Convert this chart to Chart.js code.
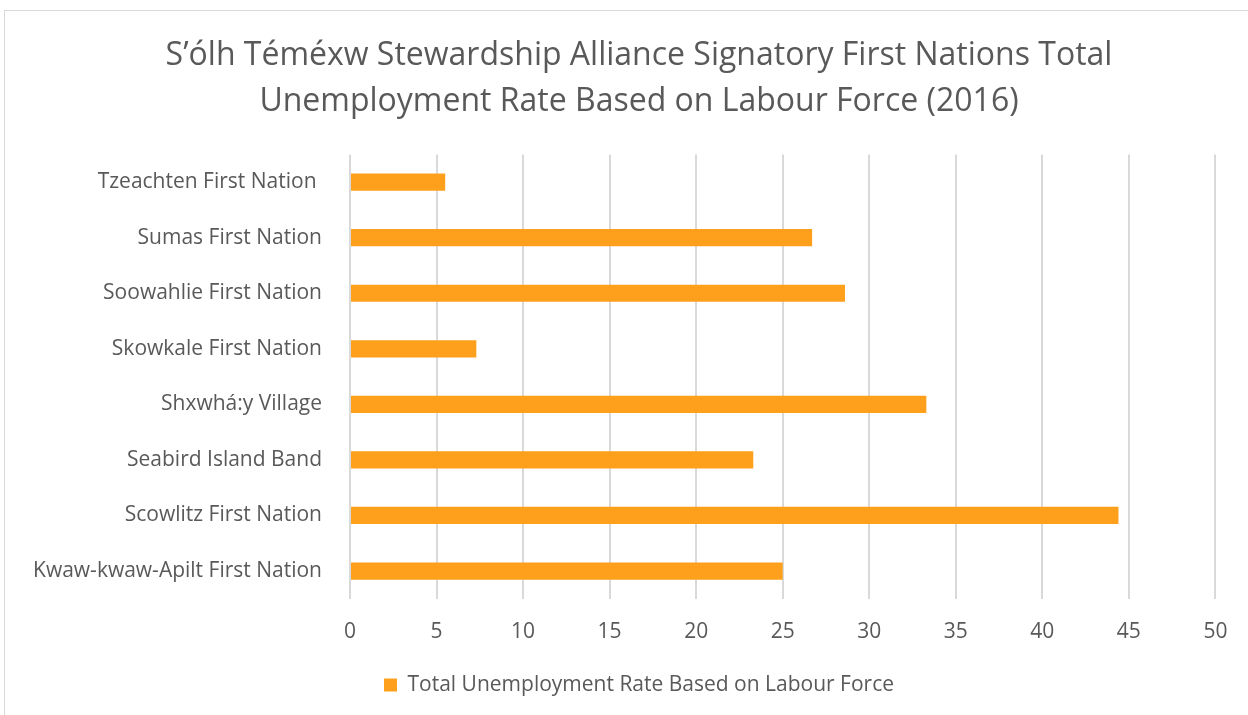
<!DOCTYPE html>
<html>
<head>
<meta charset="utf-8">
<script src="https://cdn.jsdelivr.net/npm/chart.js@4"></script>
<style>
  html, body { margin: 0; padding: 0; background: #fff; overflow: hidden; }
  #wrap { position: relative; width: 1248px; height: 715px; }
  #frame { position: absolute; left: 4px; top: 10px; width: 1300px; height: 800px; border: 1px solid #d9d9d9; pointer-events: none; }
  canvas { position: absolute; left: 0; top: 0; }
</style>
</head>
<body>
<div id="wrap">
  <canvas id="chart" width="1248" height="715"></canvas>
  <div id="frame"></div>
</div>
<script>
const nations = [
    'Tzeachten First Nation ',
    'Sumas First Nation',
    'Soowahlie First Nation',
    'Skowkale First Nation',
    'Shxwhá:y Village',
    'Seabird Island Band',
    'Scowlitz First Nation',
    'Kwaw-kwaw-Apilt First Nation'
];
const unemploymentRate = [5.5, 26.7, 28.6, 7.3, 33.3, 23.3, 44.4, 25.0];
const xTicks = [0, 5, 10, 15, 20, 25, 30, 35, 40, 45, 50];

const FONT = '"Open Sans", Lato, sans-serif';
const GREY = '#595959';

// title and legend in the original sit ~30px right of the canvas centre
const nudgeRight = {
    id: 'nudgeRight',
    afterLayout(chart) {
        if (chart.titleBlock) chart.titleBlock.left = 60;
        if (chart.legend) chart.legend.left = 60;
    }
};

const ctx = document.getElementById('chart').getContext('2d');
window.unemploymentChart = new Chart(ctx, {
    type: 'bar',
    data: {
        labels: nations,
        datasets: [{
            label: 'Total Unemployment Rate Based on Labour Force',
            data: unemploymentRate,
            backgroundColor: '#FFA01C',
            borderWidth: 0,
            barPercentage: 0.62,
            categoryPercentage: 0.5
        }]
    },
    options: {
        indexAxis: 'y',
        responsive: false,
        animation: false,
        layout: { padding: { left: 0, right: 30, top: 0, bottom: 9.5 } },
        plugins: {
            title: {
                display: true,
                text: ['S\u2019ólh Téméxw Stewardship Alliance Signatory First Nations Total',
                       'Unemployment Rate Based on Labour Force (2016)'],
                color: GREY,
                font: { family: FONT, size: 32, weight: 'normal', lineHeight: 1.42 },
                padding: { top: 33.5, bottom: 30 }
            },
            legend: {
                position: 'bottom',
                labels: {
                    color: GREY,
                    font: { family: FONT, size: 21 },
                    boxWidth: 13,
                    boxHeight: 13,
                    padding: 10
                }
            },
            tooltip: { enabled: false }
        },
        scales: {
            x: {
                min: 0,
                max: 50,
                afterBuildTicks: (axis) => { axis.ticks = xTicks.map(v => ({ value: v })); },
                afterFit: (axis) => { axis.height = 65.7; },
                grid: { color: '#d9d9d9', lineWidth: 2, drawTicks: false, tickLength: 0 },
                border: { display: false },
                ticks: { color: GREY, font: { family: FONT, size: 21 }, padding: 20.6 }
            },
            y: {
                afterFit: (axis) => { axis.width = 350; },
                grid: { display: false, drawTicks: false },
                border: { display: false },
                ticks: { color: GREY, font: { family: FONT, size: 21 }, padding: 28 }
            }
        }
    },
    plugins: [nudgeRight]
});
</script>
</body>
</html>
